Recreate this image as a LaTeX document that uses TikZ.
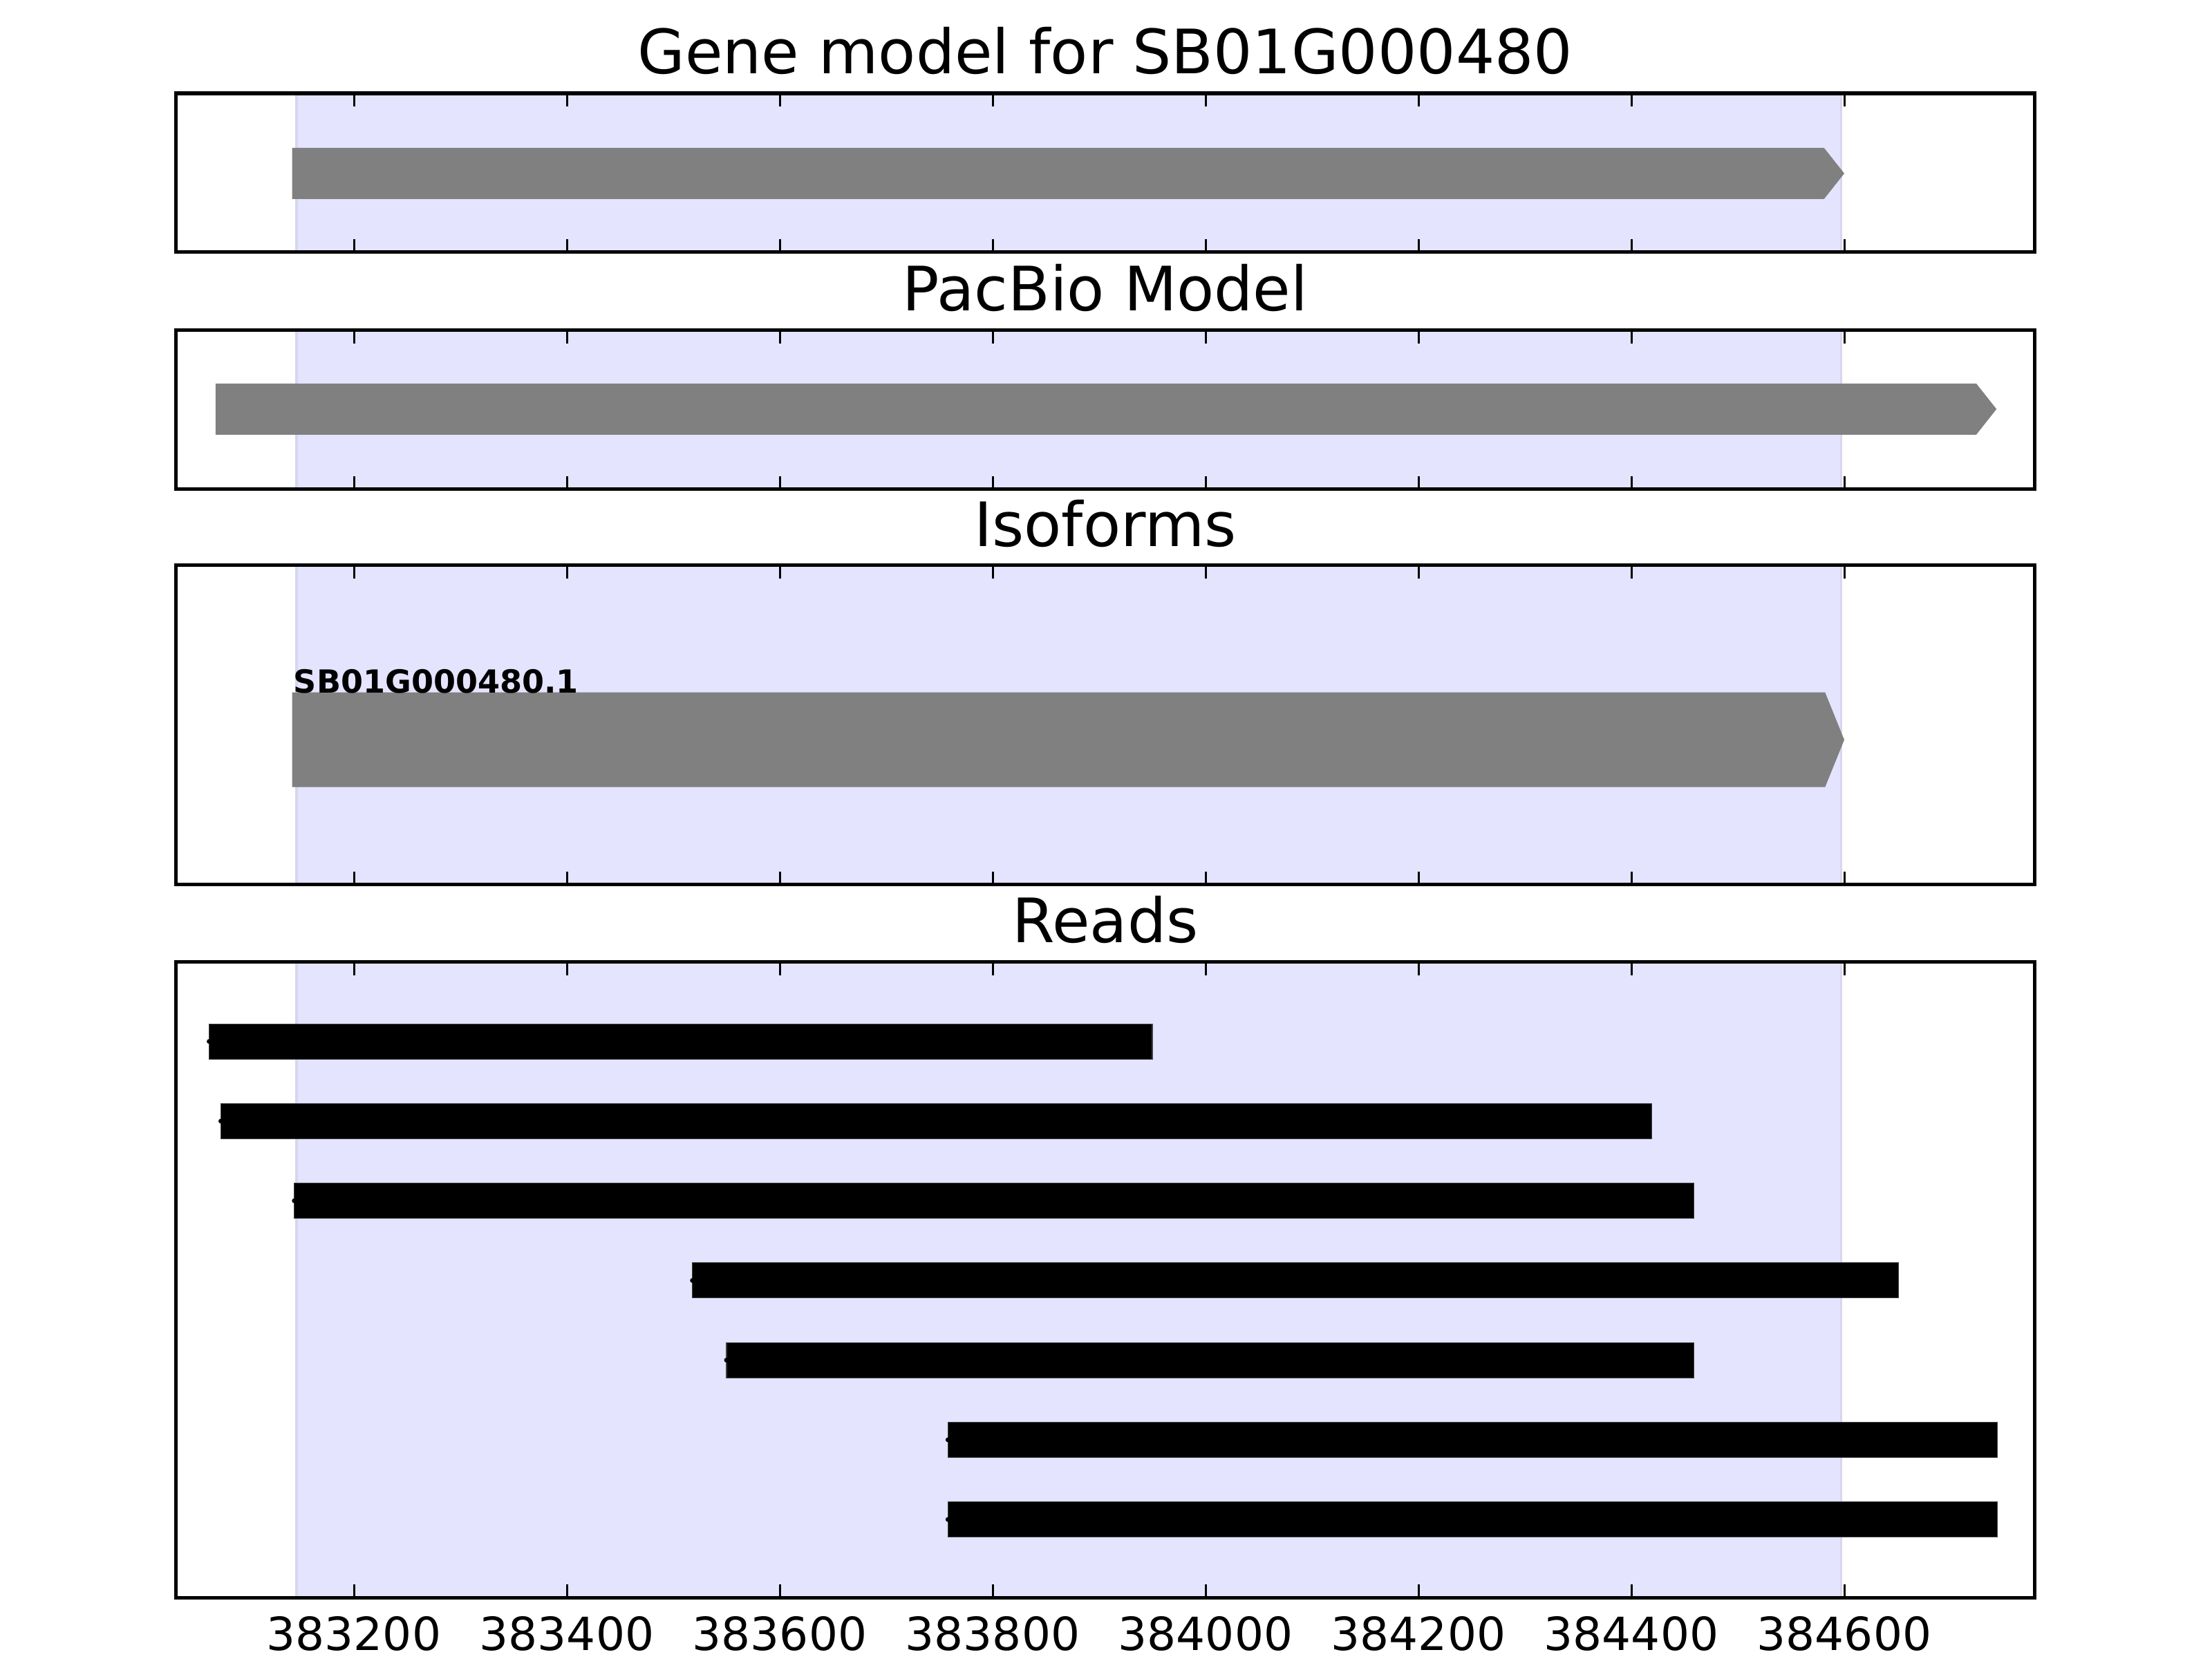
\documentclass[tikz,border=0pt]{standalone}
\usepackage{fontspec}
\setmainfont{DejaVu Sans}
\definecolor{spanblue}{RGB}{228,228,255}
\definecolor{spanedge}{RGB}{214,214,238}
\definecolor{modelgray}{RGB}{128,128,128}
\tikzset{
  frame/.style={draw=black, line width=1.45pt},
  tickline/.style={line width=0.85pt},
  readbar/.style={fill=black, draw=black!75, line width=0.3pt},
  paneltitle/.style={anchor=base, inner sep=0pt, font=\fontsize{25.2}{30}\selectfont},
  ticklabel/.style={anchor=base, inner sep=0pt, font=\fontsize{18.8}{22}\selectfont},
  isolabel/.style={anchor=base west, inner sep=0pt, font=\fontsize{13.1}{15}\selectfont\bfseries}
}
\begin{document}
\begin{tikzpicture}[x=0.0154cm, y=-0.01cm]
\useasboundingbox (-132.47,0) rectangle (1945.45,2400);
% shaded gene span in every panel
\foreach \ya/\yb in {135/365, 478/708, 818/1280, 1392/2312}{
  \fill[spanblue] (146,\ya) rectangle (1597,\yb);
  \draw[spanedge, line width=1pt] (146,\ya) -- (146,\yb) (1597,\ya) -- (1597,\yb);
}
% gene model
\fill[modelgray] (142,214) -- (1581,214) -- (1600,251) -- (1581,288) -- (142,288) -- cycle;
% pacbio model
\fill[modelgray] (70,555) -- (1724,555) -- (1743,592) -- (1724,629) -- (70,629) -- cycle;
% isoform
\fill[modelgray] (142,1002) -- (1582,1002) -- (1600,1070.5) -- (1582,1139) -- (142,1139) -- cycle;
\node[isolabel] (iso1) at (143,1003) {SB01G000480.1};
% reads
\foreach \xa/\xb/\yc in {64/950/1507, 75/1419/1622.3, 144/1459/1737.6, 518/1651/1852.9,
                        550/1459/1968.2, 758/1744/2083.5, 758/1744/2198.8}{
  \filldraw[readbar] (\xa,\yc-25.5) rectangle (\xb,\yc+25.5);
  \fill (\xa,\yc) circle[radius=0.035cm];
}
% ticks and frames
\foreach \ya/\yb in {135/365, 478/708, 818/1280, 1392/2312}{
  \foreach \u in {200,400,...,1600}{
    \draw[tickline] (\u,\ya) -- ++(0,19);
    \draw[tickline] (\u,\yb) -- ++(0,-19);
  }
  \draw[frame] (33,\ya) rectangle (1778.6,\yb);
}
% titles
\node[paneltitle] (genetitle) at (905.8,107) {Gene model for SB01G000480};
\node[paneltitle] (pacbiotitle) at (905.8,450) {PacBio Model};
\node[paneltitle] (isotitle) at (905.8,790.5) {Isoforms};
\node[paneltitle] (readstitle) at (905.8,1363.5) {Reads};
% axis labels
\foreach \u/\pos in {200/383200, 400/383400, 600/383600, 800/383800,
                    1000/384000, 1200/384200, 1400/384400, 1600/384600}{
  \node[ticklabel] (tick\u) at (\u,2388) {\pos};
}
\end{tikzpicture}
\end{document}
